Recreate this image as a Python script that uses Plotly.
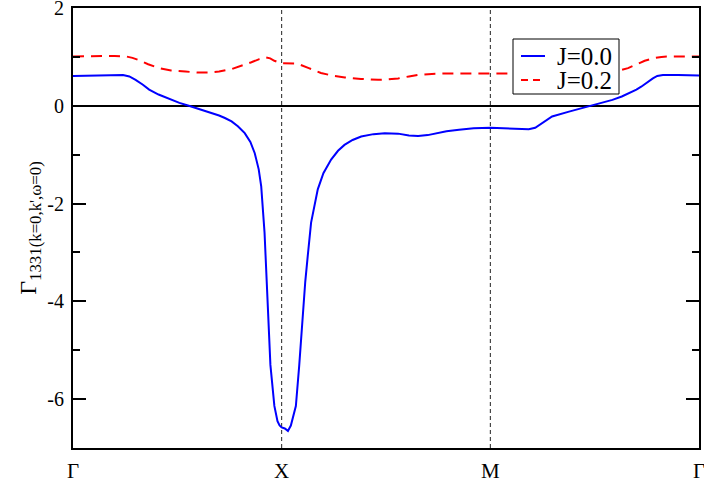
import plotly.graph_objects as go

# High-symmetry path Γ-X-M-Γ, each segment mapped to unit length
k_ticks = [0, 1, 2, 3]
k_labels = ["Γ", "X", "M", "Γ"]

# y-axis ticks (hyphen minus, as in the original typesetting)
g_ticks = [-6, -4, -2, 0, 2]
g_labels = ["-6", "-4", "-2", "0", "2"]

# Vertex function along the path, J = 0.0
k_j00 = [0.0, 0.1, 0.2, 0.24, 0.27, 0.30, 0.335, 0.365, 0.41, 0.46, 0.51, 0.555,
         0.60, 0.649, 0.70, 0.728, 0.76, 0.79, 0.823, 0.85, 0.871, 0.89, 0.902,
         0.918, 0.934, 0.946, 0.965, 0.98, 0.99, 1.0, 1.015, 1.03, 1.044, 1.056,
         1.068, 1.084, 1.101, 1.113, 1.125, 1.141, 1.173, 1.20, 1.237, 1.27,
         1.301, 1.34, 1.381, 1.44, 1.494, 1.558, 1.61, 1.654, 1.70, 1.734, 1.79,
         1.85, 1.92, 2.0, 2.087, 2.14, 2.184, 2.215, 2.248, 2.296, 2.377, 2.43,
         2.488, 2.54, 2.585, 2.63, 2.667, 2.70, 2.723, 2.755, 2.779, 2.80, 2.827,
         2.9, 3.0]
g_j00 = [0.61, 0.62, 0.63, 0.63, 0.60, 0.53, 0.43, 0.33, 0.23, 0.14, 0.06, 0.0,
         -0.06, -0.12, -0.20, -0.25, -0.32, -0.42, -0.56, -0.74, -0.97, -1.30,
         -1.65, -2.6, -4.1, -5.3, -6.14, -6.45, -6.54, -6.58, -6.60, -6.65, -6.54,
         -6.35, -6.14, -5.32, -4.2, -3.6, -3.07, -2.39, -1.71, -1.38, -1.10, -0.92,
         -0.80, -0.70, -0.63, -0.58, -0.56, -0.57, -0.61, -0.62, -0.60, -0.57,
         -0.52, -0.49, -0.46, -0.45, -0.46, -0.48, -0.48, -0.45, -0.35, -0.22,
         -0.12, -0.06, 0.0, 0.06, 0.12, 0.19, 0.26, 0.33, 0.39, 0.49, 0.56, 0.61,
         0.63, 0.63, 0.62]

# Vertex function along the path, J = 0.2
k_j02 = [0.0, 0.1, 0.2, 0.254, 0.285, 0.318, 0.36, 0.412, 0.47, 0.539, 0.60,
         0.649, 0.70, 0.76, 0.81, 0.855, 0.89, 0.921, 0.945, 0.965, 0.997, 1.04,
         1.077, 1.13, 1.188, 1.24, 1.303, 1.38, 1.462, 1.51, 1.558, 1.61, 1.654,
         1.72, 1.784, 1.9, 2.0, 2.1, 2.2, 2.3, 2.4, 2.5, 2.56, 2.618, 2.66, 2.699,
         2.74, 2.779, 2.82, 2.861, 2.93, 3.0]
g_j02 = [1.01, 1.02, 1.02, 1.01, 0.98, 0.93, 0.85, 0.77, 0.72, 0.70, 0.68, 0.68,
         0.70, 0.75, 0.82, 0.89, 0.95, 0.99, 0.97, 0.92, 0.87, 0.87, 0.86, 0.77,
         0.67, 0.62, 0.58, 0.55, 0.53, 0.54, 0.56, 0.60, 0.63, 0.65, 0.66, 0.66,
         0.66, 0.66, 0.65, 0.65, 0.65, 0.66, 0.68, 0.72, 0.77, 0.84, 0.92, 0.97,
         1.00, 1.01, 1.01, 1.01]

series_names = ["J=0.0", "J=0.2"]
series_colors = ["#0000ff", "#ff0000"]

SERIF = "Liberation Serif, Times New Roman, serif"

fig = go.Figure()
fig.add_trace(go.Scatter(x=k_j00, y=g_j00, mode="lines", name=series_names[0],
                         line=dict(color=series_colors[0], width=2),
                         showlegend=False))
fig.add_trace(go.Scatter(x=k_j02, y=g_j02, mode="lines", name=series_names[1],
                         line=dict(color=series_colors[1], width=2, dash="11px,7px"),
                         showlegend=False))

# dashed guides at the interior high-symmetry points
for kv in k_ticks[1:-1]:
    fig.add_vline(x=kv, line=dict(color="#222222", width=1, dash="4px,3px"),
                  layer="below")

# boxed legend in the upper right
x0_px, y0_px = 73, 8
pw, ph = 626, 440
def px_x(p):
    return (p - x0_px) / pw
def px_y(p):
    return (y0_px + ph - p) / ph

fig.add_shape(type="rect", xref="paper", yref="paper",
              x0=px_x(513), x1=px_x(619), y0=px_y(94), y1=px_y(39),
              line=dict(color="black", width=1), fillcolor="white", layer="above")
for i, row_py in enumerate([56, 80]):
    fig.add_shape(type="line", xref="paper", yref="paper",
                  x0=px_x(521), x1=px_x(545), y0=px_y(row_py), y1=px_y(row_py),
                  line=dict(color=series_colors[i], width=2,
                            dash="solid" if i == 0 else "7px,5px"),
                  layer="above")
    fig.add_annotation(xref="paper", yref="paper", x=px_x(556), y=px_y(row_py),
                       text=series_names[i], showarrow=False, xanchor="left",
                       yanchor="middle", height=22, borderpad=0,
                       font=dict(family=SERIF, size=25, color="black"))

fig.update_layout(
    width=704, height=482,
    margin=dict(l=73, r=5, t=8, b=34, autoexpand=False),
    paper_bgcolor="white", plot_bgcolor="white",
    font=dict(family=SERIF, color="black"),
)
fig.update_xaxes(
    range=[0, 3], tickmode="array", tickvals=k_ticks, ticktext=k_labels,
    ticks="", showgrid=False, zeroline=False, automargin=False,
    showline=True, linecolor="black", linewidth=2, mirror=True,
    tickfont=dict(family=SERIF, size=21), ticklabelstandoff=3,
    ticklabeloverflow="allow",
)
fig.update_yaxes(
    range=[-7, 2], tickmode="array", tickvals=g_ticks, ticktext=g_labels,
    ticks="inside", ticklen=13, tickwidth=1.5, tickcolor="black",
    minor=dict(ticks="inside", ticklen=7, tickwidth=1.5, tickcolor="black",
               dtick=1, tick0=1, showgrid=False),
    showgrid=False, zeroline=True, zerolinecolor="black", zerolinewidth=2,
    showline=True, linecolor="black", linewidth=2, mirror="ticks",
    automargin=False, ticklabeloverflow="allow",
    tickfont=dict(family=SERIF, size=20), ticklabelstandoff=3,
    title=dict(text="Γ<sub>1331(k=0,k',ω=0)</sub>", font=dict(family=SERIF, size=24),
               standoff=4),
)

fig.write_html("out.html")
